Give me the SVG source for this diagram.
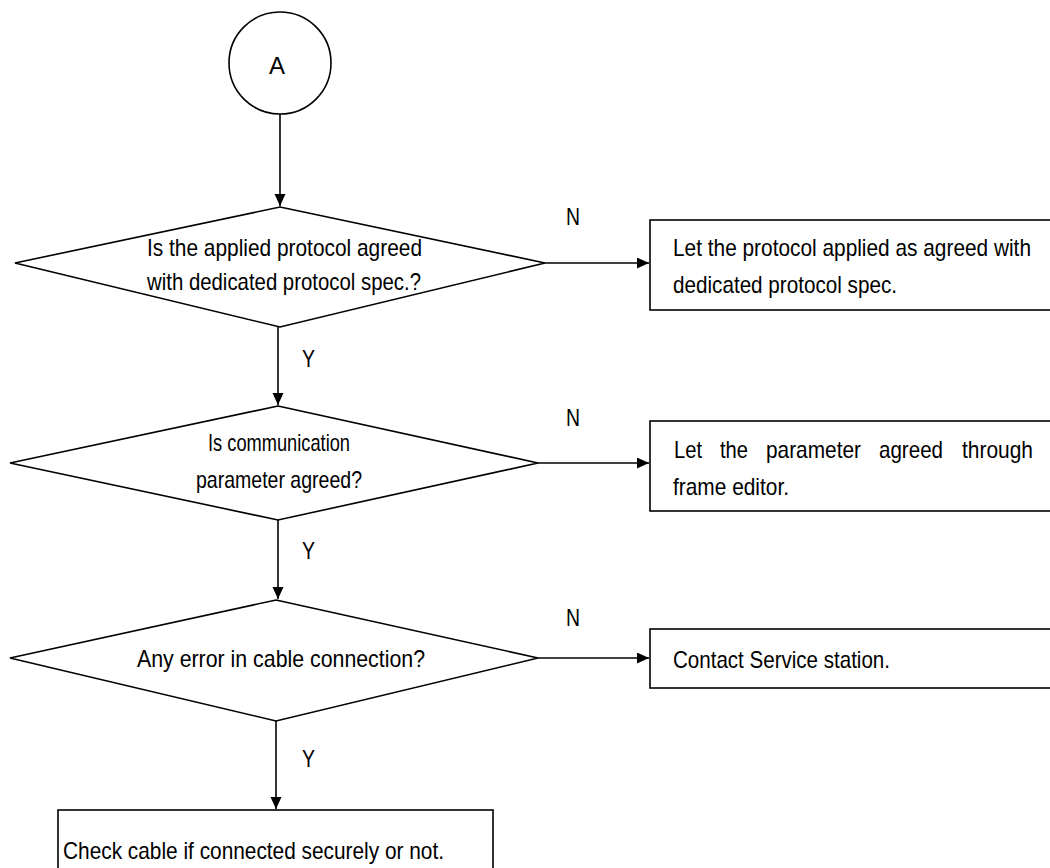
<svg xmlns="http://www.w3.org/2000/svg" width="1050" height="868" viewBox="0 0 1050 868">
<defs>
<marker id="ah" markerWidth="12" markerHeight="12" refX="12" refY="5.5" orient="auto" markerUnits="userSpaceOnUse">
<path d="M0,0 L12,5.5 L0,11 Z" fill="#000"/>
</marker>
<style>
.s{fill:#fff;stroke:#000;stroke-width:1.6}
.t{font-family:"Liberation Sans Narrow","Arial Narrow","Liberation Sans",Arial,sans-serif;font-size:24px;fill:#000}
.l{fill:none;stroke:#000;stroke-width:1.6}
</style>
</defs>
<rect width="1050" height="868" fill="#fff"/>
<g id="start">
<circle class="s" cx="280" cy="63" r="51"/>
<text class="t" x="269" y="74" textLength="16" lengthAdjust="spacingAndGlyphs">A</text>
</g>
<g id="d1">
<polygon class="s" points="280,207 545,263 280,327 15,263"/>
<text class="t" x="147" y="256" textLength="275" lengthAdjust="spacingAndGlyphs">Is the applied protocol agreed</text>
<text class="t" x="147" y="290" textLength="274" lengthAdjust="spacingAndGlyphs">with dedicated protocol spec.?</text>
</g>
<g id="b1">
<rect class="s" x="650" y="220" width="410" height="90"/>
<text class="t" x="673" y="256" textLength="358" lengthAdjust="spacingAndGlyphs">Let the protocol applied as agreed with</text>
<text class="t" x="673" y="293" textLength="224" lengthAdjust="spacingAndGlyphs">dedicated protocol spec.</text>
</g>
<g id="d2">
<polygon class="s" points="278,406 538,463 278,520 10,463"/>
<text class="t" x="208" y="451" textLength="142" lengthAdjust="spacingAndGlyphs">Is communication</text>
<text class="t" x="196" y="488" textLength="166" lengthAdjust="spacingAndGlyphs">parameter agreed?</text>
</g>
<g id="b2">
<rect class="s" x="650" y="421" width="410" height="90"/>
<text class="t" y="458"><tspan x="674" textLength="28" lengthAdjust="spacingAndGlyphs">Let</tspan> <tspan x="720" textLength="28" lengthAdjust="spacingAndGlyphs">the</tspan> <tspan x="766" textLength="95" lengthAdjust="spacingAndGlyphs">parameter</tspan> <tspan x="879" textLength="64" lengthAdjust="spacingAndGlyphs">agreed</tspan> <tspan x="962" textLength="71" lengthAdjust="spacingAndGlyphs">through</tspan></text>
<text class="t" x="673" y="495" textLength="116" lengthAdjust="spacingAndGlyphs">frame editor.</text>
</g>
<g id="d3">
<polygon class="s" points="276,600 538,658 276,721 10,658"/>
<text class="t" x="137" y="667" textLength="288" lengthAdjust="spacingAndGlyphs">Any error in cable connection?</text>
</g>
<g id="b3">
<rect class="s" x="650" y="629" width="410" height="59"/>
<text class="t" x="673" y="668" textLength="217" lengthAdjust="spacingAndGlyphs">Contact Service station.</text>
</g>
<g id="b4">
<rect class="s" x="58" y="810" width="435" height="70"/>
<text class="t" x="63" y="859" textLength="381" lengthAdjust="spacingAndGlyphs">Check cable if connected securely or not.</text>
</g>
<g id="connectors">
<line class="l" x1="280" y1="114" x2="280" y2="206" marker-end="url(#ah)"/>
<line class="l" x1="545" y1="263" x2="649" y2="263" marker-end="url(#ah)"/>
<line class="l" x1="278" y1="327" x2="278" y2="405" marker-end="url(#ah)"/>
<line class="l" x1="538" y1="463" x2="649" y2="463" marker-end="url(#ah)"/>
<line class="l" x1="278" y1="520" x2="278" y2="599" marker-end="url(#ah)"/>
<line class="l" x1="538" y1="658" x2="649" y2="658" marker-end="url(#ah)"/>
<line class="l" x1="276" y1="721" x2="276" y2="809" marker-end="url(#ah)"/>
<text class="t" x="566" y="225" textLength="14" lengthAdjust="spacingAndGlyphs">N</text>
<text class="t" x="566" y="426" textLength="14" lengthAdjust="spacingAndGlyphs">N</text>
<text class="t" x="566" y="626" textLength="14" lengthAdjust="spacingAndGlyphs">N</text>
<text class="t" x="302" y="367" textLength="13" lengthAdjust="spacingAndGlyphs">Y</text>
<text class="t" x="302" y="559" textLength="13" lengthAdjust="spacingAndGlyphs">Y</text>
<text class="t" x="302" y="767" textLength="13" lengthAdjust="spacingAndGlyphs">Y</text>
</g>
</svg>
